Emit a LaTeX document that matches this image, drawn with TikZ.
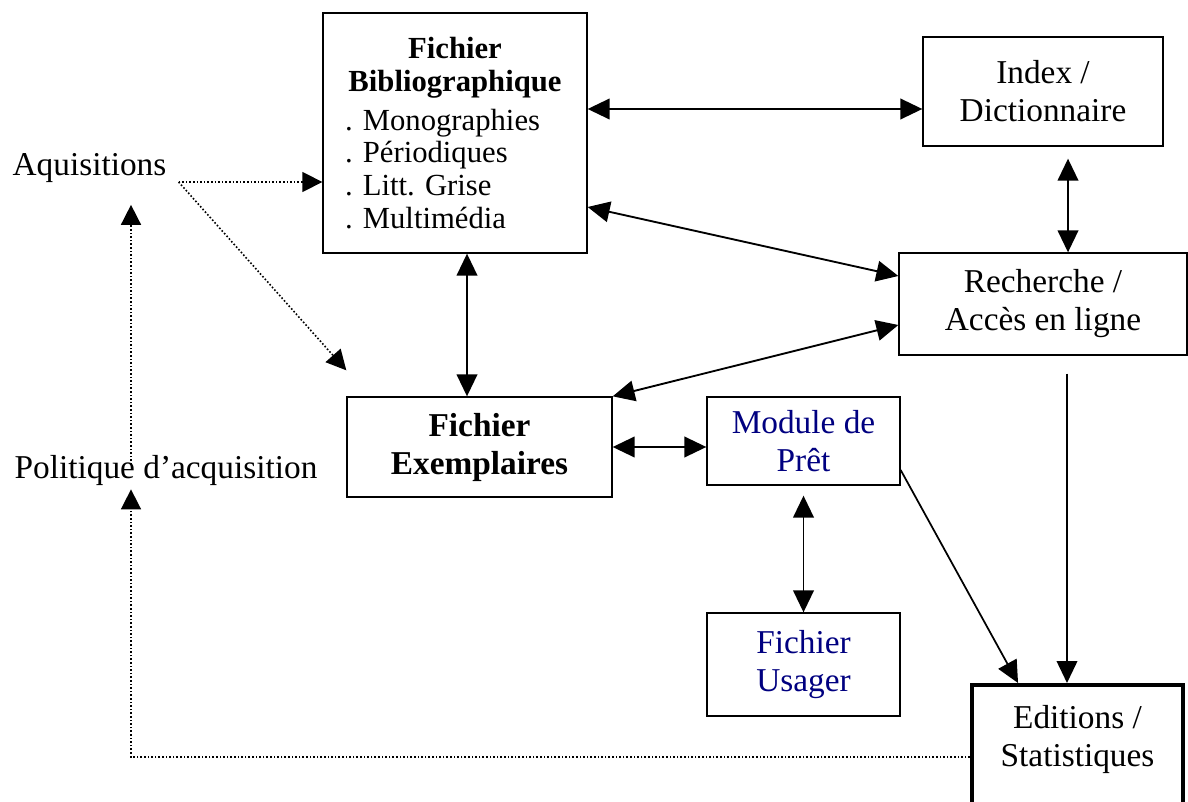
\documentclass[tikz,border=0pt]{standalone}
\usepackage{fontspec}
\setmainfont{Liberation Serif}
\usepackage{tikz}
\usetikzlibrary{arrows.meta, calc}
\usepackage{xcolor}
\definecolor{pretblue}{RGB}{0,0,128}
\frenchspacing

\begin{document}
\begin{tikzpicture}[
  x=0.75pt, y=-0.75pt,
  box/.style={draw,line width=1pt,inner sep=0pt,align=center,
              font=\fontsize{25}{28.5}\selectfont},
  txt/.style={inner sep=0pt,font=\fontsize{25}{28.5}\selectfont},
  dbl/.style={{Triangle[length=16.5pt,width=15.5pt]}-{Triangle[length=16.5pt,width=15.5pt]},line width=1.4pt},
  sgl/.style={-{Triangle[length=16.5pt,width=15.5pt]},line width=1.3pt},
  dotarr/.style={-{Triangle[length=15pt,width=15pt]},line width=1.2pt,
                 dash pattern=on 1.2pt off 1.5pt},
]
\useasboundingbox (0,0) rectangle (1188,802);
\clip (0,0) rectangle (1188,802);

% boites
\node[box,minimum width=198pt,minimum height=180pt,text width=165pt,
      align=left,font=\fontsize{23}{24.5}\selectfont] (bib) at (455,133) {
  \hfill\textbf{Fichier}\hfill\null\\
  \hfill\textbf{Bibliographique}\hfill\null\\[4.5pt]
  . Monographies\\
  . Périodiques\\
  . Litt. Grise\\
  . Multimédia
};
\node[box,minimum width=180pt,minimum height=81.75pt] (index) at (1043,91.5)
  {Index /\\Dictionnaire};
\node[box,minimum width=216pt,minimum height=76.5pt] (rech) at (1043,304)
  {Recherche /\\Accès en ligne};
\node[box,minimum width=198.75pt,minimum height=75pt] (exemp) at (479.5,447)
  {\textbf{Fichier}\\\textbf{Exemplaires}};
\node[box,minimum width=144.75pt,minimum height=66pt,text=pretblue] (pret) at (803.5,441)
  {Module de\\Prêt};
\node[box,minimum width=144.75pt,minimum height=77.25pt,text=pretblue] (usager) at (803.5,664.5)
  {Fichier\\Usager};
\node[box,line width=3pt,minimum width=158.25pt,anchor=north,inner ysep=15.5pt,
      text depth=95pt] (edit) at (1077.5,683)
  {Editions /\\Statistiques};

% textes libres
\node[txt] (aq) at (89.5,168) {Aquisitions};
\node[txt] (pol) at (166,470) {Politique d’acquisition};

% liens
\draw[dbl] ([yshift=18pt]bib.east) -- ([yshift=18pt]bib.east -| index.west);
\draw[dbl] ([yshift=-55.5pt]bib.east) -- ([yshift=21pt]rech.west);
\draw[dbl,shorten <=9pt] ([xshift=18.75pt]index.south) -- ([xshift=18.75pt]rech.north);
\draw[dbl] ([xshift=9pt]bib.south) -- ([xshift=9pt]bib.south |- exemp.north);
\draw[dbl] ([yshift=-15.75pt]rech.west) -- (exemp.north east);
\draw[dbl] (exemp.east) -- (exemp.east -| pret.west);
\draw[dbl,shorten <=7.5pt] (pret.south) -- (usager.north);
\draw[sgl] ([yshift=-21.75pt]pret.east) -- ([xshift=-44.6pt]edit.north);
\draw[sgl,shorten <=13.5pt] ([xshift=18pt]rech.south) -- ([xshift=18pt]rech.south |- edit.north);

% acquisitions (pointilles)
\coordinate (aqout) at ([xshift=9pt,yshift=-10.5pt]aq.east);
\coordinate (acqtip) at ([yshift=19.5pt]exemp.north west);
\coordinate (lp) at (131,757);
\draw[dotarr] (aqout) -- (aqout -| bib.west);
\draw[dotarr] (aqout) -- (acqtip);
\draw[dotarr,shorten <=-7.5pt,shorten >=16.5pt] (lp |- pol.north) -- (lp |- aq.south);
\draw[dotarr,shorten >=3pt] (edit.west |- lp) -- (lp) -- (lp |- pol.south);
\end{tikzpicture}
\end{document}
